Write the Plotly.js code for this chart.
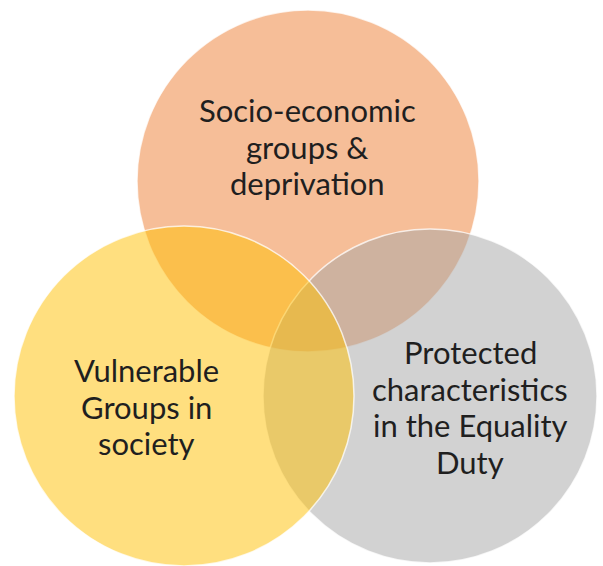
<!DOCTYPE html>
<html>
<head>
<meta charset="utf-8">
<script src="https://cdn.plot.ly/plotly-3.0.1.min.js"></script>
<style>html,body{margin:0;padding:0;background:#fff;}#chart{width:603px;height:566px;}</style>
</head>
<body>
<div id="chart"></div>
<script>
// Sets in the Venn diagram (drawing order: bottom to top)
var setNames = ["Socio-economic groups & deprivation", "Protected characteristics in the Equality Duty", "Vulnerable Groups in society"];
var setCenterX = [308, 430, 184];
var setCenterY = [181, 396, 396];
var setRadius = [171, 167, 170];
var setColors = ["rgba(237,125,49,0.5)", "rgba(165,165,165,0.5)", "rgba(255,192,0,0.5)"];

// Labels (one line per entry)
var labelLines = [
  ["Socio-economic", "groups &", "deprivation"],
  ["Protected", "characteristics", "in the Equality", "Duty"],
  ["Vulnerable", "Groups in", "society"]
];
var labelX = [307, 470, 146];
var labelFirstY = [110, 352, 370];
var lineStep = 36.5;

var shapes = [];
for (var i = 0; i < setNames.length; i++) {
  shapes.push({
    type: "circle", xref: "x", yref: "y",
    x0: setCenterX[i] - setRadius[i], x1: setCenterX[i] + setRadius[i],
    y0: setCenterY[i] - setRadius[i], y1: setCenterY[i] + setRadius[i],
    fillcolor: setColors[i],
    line: {color: "rgba(255,255,255,0.75)", width: 1.5},
    layer: "below"
  });
}

var annotations = [];
for (var j = 0; j < labelLines.length; j++) {
  for (var k = 0; k < labelLines[j].length; k++) {
    annotations.push({
      x: labelX[j], y: labelFirstY[j] + k * lineStep,
      xref: "x", yref: "y", text: labelLines[j][k], showarrow: false,
      xanchor: "center", yanchor: "middle",
      font: {family: "Lato, 'Open Sans', sans-serif", size: 31, color: "#1f1f1f"}
    });
  }
}

var layout = {
  width: 603, height: 566,
  margin: {l: 0, r: 0, t: 0, b: 0},
  paper_bgcolor: "#ffffff", plot_bgcolor: "#ffffff",
  xaxis: {range: [0, 603], visible: false, fixedrange: true},
  yaxis: {range: [566, 0], visible: false, fixedrange: true},
  shapes: shapes,
  annotations: annotations,
  showlegend: false
};

Plotly.newPlot("chart", [{x: [], y: [], type: "scatter", mode: "markers", hoverinfo: "skip"}], layout, {staticPlot: true, displayModeBar: false});
</script>
</body>
</html>
